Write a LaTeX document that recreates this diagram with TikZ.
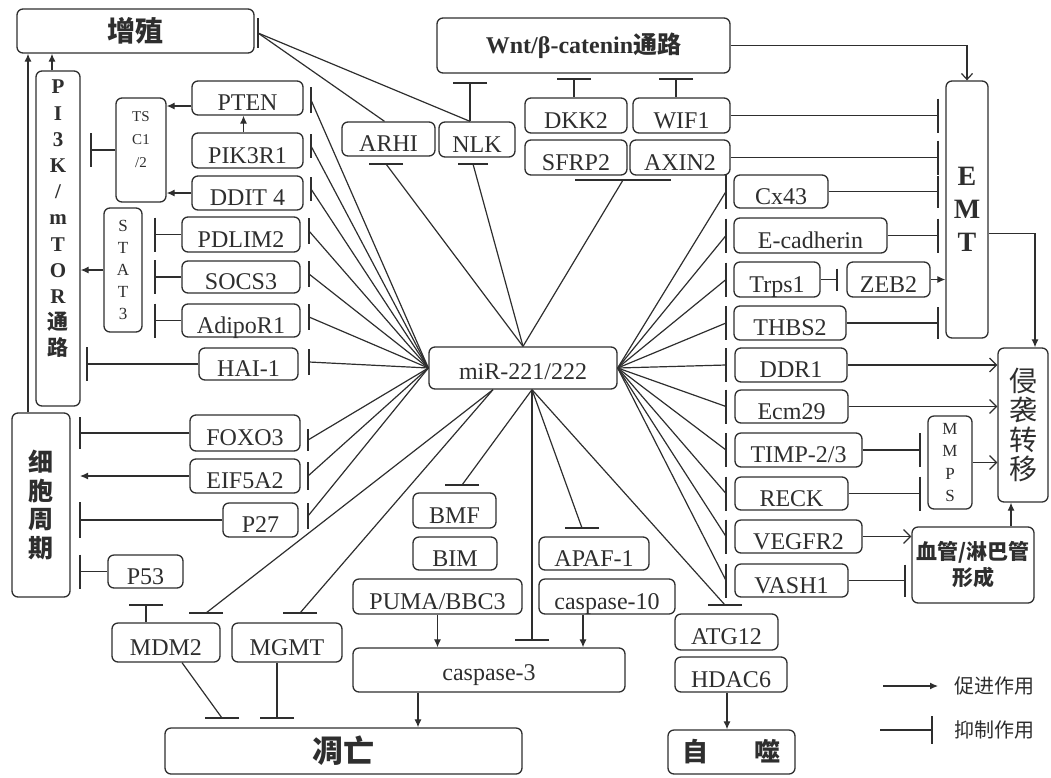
\documentclass[tikz,border=0pt]{standalone}
\usepackage{fontspec}
\setmainfont{Liberation Serif}
\newfontfamily\cjk{Noto Sans CJK SC}
\usetikzlibrary{arrows.meta}
\definecolor{ink}{gray}{0.18}
\tikzset{
  box/.style={draw=ink, line width=1.3pt, rounded corners=6pt, inner sep=0pt, text height=25pt, text depth=0pt, font=\fontsize{24}{26}\selectfont, text=ink},
  vbox/.style={draw=ink, line width=1.3pt, rounded corners=6pt, inner sep=0pt, align=center, text=ink},
  vtext/.style={inner sep=0pt, align=center, text=ink},
  con/.style={draw=ink, line width=1.2pt},
  arr/.style={con, -{Latex[length=8pt,width=7pt]}},
  oarr/.style={con, -{Straight Barb[length=7pt,width=14pt]}},
  barl/.style={draw=ink, line width=1.4pt},
}
\newcommand{\mybox}[7][box]{%
  \pgfmathsetmacro\myBW{#5-#3}\pgfmathsetmacro\myBH{#6-#4}%
  \pgfmathsetmacro\myBX{(#3+#5)/2}\pgfmathsetmacro\myBY{(#4+#6)/2}%
  \node[#1, minimum width=\myBW pt, minimum height=\myBH pt] (#2) at (\myBX,\myBY) {#7};}
\newcommand{\myvbar}[4]{\coordinate (#1) at (#2,#3); \draw[barl] ([yshift=#4pt]#1) -- ([yshift=-#4pt]#1);}
\newcommand{\myhbar}[4]{\coordinate (#1) at (#2,#3); \draw[barl] ([xshift=#4pt]#1) -- ([xshift=-#4pt]#1);}
\begin{document}
\begin{tikzpicture}[x=1pt,y=-1pt]
\useasboundingbox (0,0) rectangle (1051,777);
% ---------- boxes ----------
\mybox[vbox,font=\fontsize{28}{30}\selectfont\cjk\bfseries]{Z}{17}{9}{254}{53}{增殖}
\mybox[vbox,font=\fontsize{24}{26}\selectfont\bfseries]{Wnt}{437}{18}{730}{73}{Wnt/β-catenin{\cjk 通路}}
\mybox{ARHI}{342}{122}{435}{156}{ARHI}
\mybox{NLK}{439}{122}{515}{157}{NLK}
\mybox{DKK2}{525}{98}{627}{133}{DKK2}
\mybox{WIF1}{633}{98}{730}{133}{WIF1}
\mybox{SFRP2}{525}{140}{627}{175}{SFRP2}
\mybox{AXIN2}{630}{140}{730}{175}{AXIN2}
\mybox{PTEN}{192}{81}{303}{115}{PTEN}
\mybox{PIK3R1}{192}{133}{303}{168}{PIK3R1}
\mybox{DDIT4}{192}{176}{303}{210}{DDIT 4}
\mybox[vbox]{TSC}{116}{98}{166}{202}{}
\node[vtext,font=\fontsize{15}{23}\selectfont] (TSCt) at (141,140) {TS\\C1\\/2};
\mybox[vbox]{PI3K}{36}{71}{80}{406}{}
\node[vtext,font=\fontsize{21}{26.2}\selectfont\bfseries] (PI3Kt) at (58,219) {P\\I\\3\\K\\/\\m\\T\\O\\R\\{\cjk 通}\\{\cjk 路}};
\mybox[vbox,font=\fontsize{17}{22}\selectfont]{STAT3}{104}{208}{142}{332}{S\\T\\A\\T\\3}
\mybox{PDLIM2}{182}{217}{300}{252}{PDLIM2}
\mybox{SOCS3}{182}{261}{300}{293}{SOCS3}
\mybox{AdipoR1}{182}{304}{300}{337}{AdipoR1}
\mybox{HAI}{199}{348}{298}{380}{HAI-1}
\mybox[vbox,font=\fontsize{25}{28.5}\selectfont\cjk\bfseries]{CC}{12}{413}{70}{597}{细\\胞\\周\\期}
\mybox{FOXO3}{190}{415}{300}{451}{FOXO3}
\mybox{EIF5A2}{190}{459}{300}{493}{EIF5A2}
\mybox{P27}{223}{503}{298}{537}{P27}
\mybox{P53}{108}{555}{183}{588}{P53}
\mybox{MDM2}{112}{623}{220}{662}{MDM2}
\mybox{MGMT}{232}{623}{342}{662}{MGMT}
\mybox[vbox,font=\fontsize{31}{33}\selectfont\cjk\bfseries]{Apo}{165}{728}{522}{774}{凋亡}
\mybox[box,text height=22pt]{miR}{429}{347}{617}{389}{miR-221/222}
\mybox{BMF}{413}{493}{496}{528}{BMF}
\mybox{BIM}{413}{537}{497}{570}{BIM}
\mybox{PUMA}{353}{579}{522}{614}{PUMA/BBC3}
\mybox{APAF}{539}{537}{649}{570}{APAF-1}
\mybox{C10}{539}{579}{675}{614}{caspase-10}
\mybox[box,text height=20pt]{C3}{353}{648}{625}{692}{caspase-3}
\mybox{ATG12}{675}{614}{778}{650}{ATG12}
\mybox{HDAC6}{675}{657}{787}{692}{HDAC6}
\mybox[vbox,font=\fontsize{26}{28}\selectfont\cjk\bfseries]{Auto}{668}{730}{795}{774}{自\hspace{47pt}噬}
\mybox[vbox,font=\fontsize{28}{33}\selectfont\bfseries]{EMT}{946}{81}{988}{338}{E\\M\\T}
\mybox{Cx43}{734}{175}{828}{208}{Cx43}
\mybox{Ecad}{734}{218}{887}{253}{E-cadherin}
\mybox{Trps1}{734}{262}{820}{297}{Trps1}
\mybox{ZEB2}{847}{262}{930}{297}{ZEB2}
\mybox{THBS2}{734}{306}{846}{340}{THBS2}
\mybox{DDR1}{735}{348}{847}{382}{DDR1}
\mybox{Ecm29}{735}{390}{848}{423}{Ecm29}
\mybox{TIMP}{735}{433}{862}{467}{TIMP-2/3}
\mybox{RECK}{735}{477}{848}{510}{RECK}
\mybox{VEGFR2}{735}{520}{862}{553}{VEGFR2}
\mybox{VASH1}{735}{564}{848}{597}{VASH1}
\mybox[vbox,font=\fontsize{17}{22.5}\selectfont]{MMPS}{928}{416}{972}{509}{M\\M\\P\\S}
\mybox[vbox,font=\fontsize{21}{26}\selectfont\cjk\bfseries]{Vas}{912}{527}{1034}{603}{血管/淋巴管\\形成}
\mybox[vbox,font=\fontsize{28}{29.5}\selectfont\cjk]{Inv}{998}{348}{1048}{502}{侵\\袭\\转\\移}
% ---------- top ----------
\myvbar{bZ}{258}{33}{15}
\coordinate (nT) at ([xshift=-7pt]NLK.north);
\draw[con] (bZ) -- ([xshift=-4pt]ARHI.north);
\draw[con] (bZ) -- (nT);
\myhbar{bW1}{470}{83}{17}
\draw[con] (bW1) -- (nT);
\myhbar{bW2}{574}{79}{17}
\draw[con] (bW2) -- (bW2 |- DKK2.north);
\myhbar{bW3}{676}{79}{17}
\draw[con] (bW3) -- (bW3 |- WIF1.north);
\myhbar{bARHI}{386}{164}{17}
\myhbar{bNLK}{473}{164}{15}
\myhbar{bSA}{623}{180}{48}
\draw[con] (miR.north) -- (bARHI);
\draw[con] (miR.north) -- (bNLK);
\draw[con] (miR.north) -- (bSA);
\draw[con, -{Straight Barb[length=6pt,width=11pt]}] (Wnt.east) -| (EMT.north);
% ---------- upper left ----------
\coordinate (pt1) at ([yshift=-8pt]PTEN.west);
\draw[arr] (pt1) -- (pt1 -| TSC.east);
\draw[arr] ([xshift=-4pt]PIK3R1.north) -- ([xshift=-4pt]PTEN.south);
\draw[arr] (DDIT4.west) -- (DDIT4.west -| TSC.east);
\myvbar{bTSC}{91}{150}{17}
\draw[con] (TSC.west) -- (bTSC);
\coordinate (pk) at ([xshift=-6pt]PI3K.north);
\draw[arr] (pk) -- (pk |- Z.south);
\coordinate (cc) at ([xshift=-13pt]CC.north);
\draw[arr] (cc) -- (cc |- Z.south);
\draw[arr] (STAT3.west) -- (STAT3.west -| PI3K.east);
\myvbar{bPD}{155}{234.5}{17}
\draw[con] (PDLIM2.west) -- (bPD);
\myvbar{bSO}{155}{277}{17}
\draw[con] (SOCS3.west) -- (bSO);
\myvbar{bAD}{155}{320.5}{17}
\draw[con] (AdipoR1.west) -- (bAD);
\myvbar{bHP}{87}{364}{17}
\draw[con] (HAI.west) -- (bHP);
% miR inhibitions (left)
\myvbar{mPTEN}{311}{100}{13}
\myvbar{mPIK}{311}{146}{12}
\myvbar{mDD}{311}{189}{12}
\myvbar{mPD}{309}{231}{13}
\myvbar{mSO}{309}{274}{13}
\myvbar{mAD}{309}{317}{13}
\myvbar{mHAI}{309}{362}{13}
\myvbar{mFO}{308}{440}{11}
\myvbar{mEI}{308}{476}{14}
\myvbar{mP27}{308}{516}{13}
\foreach \t in {mPTEN,mPIK,mDD,mPD,mSO,mAD,mHAI,mFO,mEI,mP27}
  \draw[con] (miR.west) -- (\t);
% cell cycle
\myvbar{bFO}{80}{433}{16}
\draw[con] (FOXO3.west) -- (bFO);
\coordinate (cEIF) at (80,476);
\draw[arr] (EIF5A2.west) -- (cEIF);
\myvbar{bP27}{80}{520}{18}
\draw[con] (P27.west) -- (bP27);
\myvbar{bP53}{80}{571.5}{17}
\draw[con] (P53.west) -- (bP53);
% ---------- bottom ----------
\coordinate (mBL) at ([xshift=-30pt]miR.south);
\coordinate (mB) at ([xshift=9pt]miR.south);
\myhbar{mMD}{206}{613}{17}
\myhbar{mMG}{300}{613}{17}
\draw[con] (mBL) -- (mMD);
\draw[con] (mBL) -- (mMG);
\myhbar{mBMF}{462}{485}{17}
\myhbar{mC3}{532}{640}{17}
\myhbar{mAP}{582}{528}{17}
\myhbar{mATG}{725}{605}{17}
\draw[con] (mB) -- (mBMF);
\draw[con] (mB) -- (mC3);
\draw[con] (mB) -- (mAP);
\draw[con] (mB) -- (mATG);
\myhbar{bMP}{146}{605}{17}
\draw[con] (bMP) -- (bMP |- MDM2.north);
\coordinate (md) at ([xshift=16pt]MDM2.south);
\myhbar{bA1}{222}{718}{17}
\draw[con] (md) -- (bA1);
\myhbar{bA2}{277}{718}{17}
\draw[con] (bA2 |- MGMT.south) -- (bA2);
\draw[arr] (PUMA.south) -- (PUMA.south |- C3.north);
\coordinate (c10) at ([xshift=-24pt]C10.south);
\draw[arr] (c10) -- (c10 |- C3.north);
\coordinate (c3) at ([xshift=-71pt]C3.south);
\draw[arr] (c3) -- (c3 |- Apo.north);
\coordinate (hd) at ([xshift=-4pt]HDAC6.south);
\draw[arr] (hd) -- (hd |- Auto.north);
% ---------- right ----------
\myvbar{mCx}{726}{191.5}{17}
\myvbar{mEc}{726}{235.5}{17}
\myvbar{mTr}{726}{279.5}{17}
\myvbar{mTH}{726}{323}{17}
\myvbar{mDD1}{726}{365}{17}
\myvbar{mEcm}{726}{406.5}{17}
\myvbar{mTI}{726}{450}{17}
\myvbar{mRE}{726}{493.5}{17}
\myvbar{mVE}{726}{536.5}{17}
\myvbar{mVA}{726}{580.5}{17}
\foreach \t in {mCx,mEc,mTr,mTH,mDD1,mEcm,mTI,mRE,mVE,mVA}
  \draw[con] (miR.east) -- (\t);
\myvbar{eW}{938}{115.5}{17}
\draw[con] (WIF1.east) -- (eW);
\myvbar{eA}{938}{157.5}{17}
\draw[con] (AXIN2.east) -- (eA);
\myvbar{eC}{938}{191.5}{16}
\draw[con] (Cx43.east) -- (eC);
\myvbar{eE}{938}{235.5}{17}
\draw[con] (Ecad.east) -- (eE);
\myvbar{eT}{938}{323}{16}
\draw[con] (THBS2.east) -- (eT);
\myvbar{bTZ}{837}{279.5}{11}
\draw[con] (Trps1.east) -- (bTZ);
\draw[arr] (ZEB2.east) -- (ZEB2.east -| EMT.west);
\coordinate (e1) at ([yshift=-24pt]EMT.east);
\coordinate (invT) at ([xshift=12pt]Inv.north);
\draw[arr] (e1) -| (invT);
\draw[oarr] (DDR1.east) -- (DDR1.east -| Inv.west);
\draw[oarr] (Ecm29.east) -- (Ecm29.east -| Inv.west);
\draw[oarr] (MMPS.east) -- (MMPS.east -| Inv.west);
\myvbar{bTM}{920}{450}{17}
\draw[con] (TIMP.east) -- (bTM);
\myvbar{bRM}{920}{493.5}{17}
\draw[con] (RECK.east) -- (bRM);
\draw[oarr] (VEGFR2.east) -- (VEGFR2.east -| Vas.west);
\myvbar{bVV}{905}{580.5}{16}
\draw[con] (VASH1.east) -- (bVV);
\coordinate (vi) at ([xshift=38pt]Vas.north);
\draw[arr] (vi) -- (vi |- Inv.south);
% ---------- legend ----------
\coordinate (L1a) at (883,686);
\coordinate (L1b) at (938,686);
\draw[arr] (L1a) -- (L1b);
\node[vtext,font=\fontsize{20}{22}\selectfont\cjk] (L1t) at (994,686) {促进作用};
\coordinate (L2a) at (880,730);
\myvbar{L2b}{932}{730}{14}
\draw[con] (L2a) -- (L2b);
\node[vtext,font=\fontsize{20}{22}\selectfont\cjk] (L2t) at (994,730) {抑制作用};
\end{tikzpicture}
\end{document}
